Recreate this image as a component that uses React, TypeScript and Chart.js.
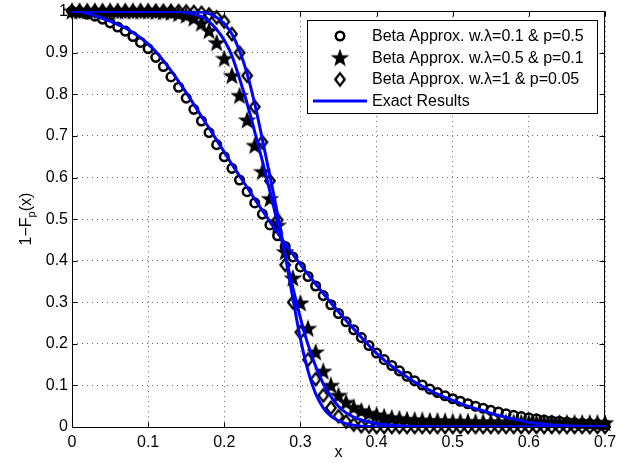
import React, { useEffect, useRef } from 'react';
import { Chart, registerables } from 'chart.js';

Chart.register(...registerables);

// ---------------- data ----------------
const X_VALUES = [
  0, 0.01, 0.02, 0.03, 0.04, 0.05, 0.06, 0.07, 0.08, 0.09,
  0.1, 0.11, 0.12, 0.13, 0.14, 0.15, 0.16, 0.17, 0.18, 0.19,
  0.2, 0.21, 0.22, 0.23, 0.24, 0.25, 0.26, 0.27, 0.28, 0.29,
  0.3, 0.31, 0.32, 0.33, 0.34, 0.35, 0.36, 0.37, 0.38, 0.39,
  0.4, 0.41, 0.42, 0.43, 0.44, 0.45, 0.46, 0.47, 0.48, 0.49,
  0.5, 0.51, 0.52, 0.53, 0.54, 0.55, 0.56, 0.57, 0.58, 0.59,
  0.6, 0.61, 0.62, 0.63, 0.64, 0.65, 0.66, 0.67, 0.68, 0.69,
  0.7,
];

// Beta approximation, lambda=0.1 & p=0.5 (circles)
const APPROX_L01 = [
  1.0, 0.998, 0.993, 0.988, 0.981, 0.972, 0.962, 0.952, 0.939, 0.925,
  0.91, 0.889, 0.867, 0.842, 0.817, 0.791, 0.764, 0.736, 0.708, 0.679,
  0.65, 0.622, 0.594, 0.566, 0.539, 0.512, 0.486, 0.46, 0.434, 0.409,
  0.385, 0.362, 0.339, 0.316, 0.294, 0.273, 0.253, 0.234, 0.215, 0.196,
  0.178, 0.162, 0.148, 0.135, 0.122, 0.111, 0.101, 0.091, 0.083, 0.075,
  0.068, 0.062, 0.056, 0.05, 0.045, 0.04, 0.036, 0.032, 0.028, 0.025,
  0.022, 0.02, 0.017, 0.015, 0.014, 0.012, 0.01, 0.009, 0.008, 0.007,
  0.006,
];

// Beta approximation, lambda=0.5 & p=0.1 (stars)
const APPROX_L05 = [
  1, 1, 1, 1, 1, 1, 1, 1, 1, 1,
  1, 0.999, 0.998, 0.997, 0.994, 0.99, 0.983, 0.971, 0.953, 0.924,
  0.886, 0.845, 0.797, 0.738, 0.677, 0.614, 0.549, 0.485, 0.421, 0.358,
  0.298, 0.237, 0.18, 0.134, 0.1, 0.076, 0.059, 0.047, 0.039, 0.033,
  0.029, 0.025, 0.022, 0.02, 0.018, 0.017, 0.016, 0.015, 0.015, 0.014,
  0.013, 0.013, 0.013, 0.012, 0.012, 0.012, 0.012, 0.011, 0.011, 0.011,
  0.011, 0.011, 0.01, 0.01, 0.01, 0.01, 0.01, 0.01, 0.01, 0.01,
  0.01,
];

// Beta approximation, lambda=1 & p=0.05 (diamonds)
const APPROX_L1 = [
  1, 1, 1, 1, 1, 1, 1, 1, 1, 1,
  1, 1, 1, 1, 1, 0.999, 0.998, 0.996, 0.992, 0.985,
  0.975, 0.945, 0.9, 0.845, 0.77, 0.685, 0.592, 0.498, 0.39, 0.3,
  0.228, 0.162, 0.115, 0.076, 0.046, 0.026, 0.013, 0.006, 0.002, 0.001,
  0, 0, 0, 0, 0, 0, 0, 0, 0, 0,
  0, 0, 0, 0, 0, 0, 0, 0, 0, 0,
  0, 0, 0, 0, 0, 0, 0, 0, 0, 0,
  0,
];

// Exact results (blue lines)
const EXACT_L01 = [
  1.0, 0.999, 0.995, 0.989, 0.983, 0.976, 0.968, 0.96, 0.949, 0.936,
  0.921, 0.903, 0.881, 0.857, 0.831, 0.804, 0.776, 0.747, 0.719, 0.69,
  0.661, 0.632, 0.604, 0.576, 0.548, 0.521, 0.494, 0.467, 0.441, 0.416,
  0.391, 0.367, 0.344, 0.321, 0.299, 0.277, 0.256, 0.236, 0.216, 0.196,
  0.177, 0.161, 0.146, 0.133, 0.12, 0.108, 0.098, 0.088, 0.079, 0.071,
  0.064, 0.057, 0.05, 0.044, 0.039, 0.033, 0.028, 0.023, 0.019, 0.015,
  0.011, 0.009, 0.007, 0.005, 0.004, 0.003, 0.002, 0.002, 0.001, 0.001,
  0.001,
];

const EXACT_L05 = [
  1, 1, 1, 1, 1, 1, 1, 1, 1, 1,
  1, 1, 1, 1, 0.999, 0.997, 0.993, 0.987, 0.975, 0.956,
  0.93, 0.893, 0.838, 0.778, 0.71, 0.64, 0.566, 0.49, 0.413, 0.336,
  0.262, 0.198, 0.146, 0.104, 0.073, 0.05, 0.034, 0.024, 0.017, 0.012,
  0.008, 0.006, 0.004, 0.003, 0.002, 0.001, 0.001, 0, 0, 0,
  0, 0, 0, 0, 0, 0, 0, 0, 0, 0,
  0, 0, 0, 0, 0, 0, 0, 0, 0, 0,
  0,
];

const EXACT_L1 = [
  1, 1, 1, 1, 1, 1, 1, 1, 1, 1,
  1, 1, 1, 1, 1, 1, 0.999, 0.998, 0.994, 0.985,
  0.97, 0.945, 0.905, 0.85, 0.777, 0.692, 0.603, 0.512, 0.413, 0.31,
  0.212, 0.135, 0.08, 0.046, 0.026, 0.015, 0.008, 0.004, 0.002, 0.001,
  0, 0, 0, 0, 0, 0, 0, 0, 0, 0,
  0, 0, 0, 0, 0, 0, 0, 0, 0, 0,
  0, 0, 0, 0, 0, 0, 0, 0, 0, 0,
  0,
];

const X_TICKS = [0, 0.1, 0.2, 0.3, 0.4, 0.5, 0.6, 0.7];
const X_TICK_LABELS = ['0', '0.1', '0.2', '0.3', '0.4', '0.5', '0.6', '0.7'];
const Y_TICKS = [0, 0.1, 0.2, 0.3, 0.4, 0.5, 0.6, 0.7, 0.8, 0.9, 1];
const Y_TICK_LABELS = ['0', '0.1', '0.2', '0.3', '0.4', '0.5', '0.6', '0.7', '0.8', '0.9', '1'];

const LEGEND_LABELS = [
  'Beta Approx. w.λ=0.1 & p=0.5',
  'Beta Approx. w.λ=0.5 & p=0.1',
  'Beta Approx. w.λ=1 & p=0.05',
  'Exact Results',
];
const X_TITLE = 'x';

// ---------------- styling ----------------
const FONT = '"Liberation Sans", Arial, Helvetica, sans-serif';
const BLUE = '#0000ff';

function makeStar(size: number, outer: number, inner: number): HTMLCanvasElement {
  const c = document.createElement('canvas');
  c.width = size;
  c.height = size;
  const g = c.getContext('2d')!;
  g.fillStyle = '#000';
  g.strokeStyle = '#000';
  g.lineWidth = 1.4;
  g.lineJoin = 'miter';
  g.beginPath();
  for (let k = 0; k < 10; k++) {
    const r = k % 2 === 0 ? outer : inner;
    const ang = -Math.PI / 2 + (k * Math.PI) / 5;
    const px = size / 2 + r * Math.cos(ang);
    const py = size / 2 + 0.6 + r * Math.sin(ang);
    if (k === 0) g.moveTo(px, py);
    else g.lineTo(px, py);
  }
  g.closePath();
  g.fill();
  g.stroke();
  return c;
}

function makeDiamond(size: number, hw: number, hh: number): HTMLCanvasElement {
  const c = document.createElement('canvas');
  c.width = size;
  c.height = size;
  const g = c.getContext('2d')!;
  const m = size / 2;
  g.strokeStyle = '#000';
  g.lineWidth = 2.3;
  g.lineJoin = 'miter';
  g.beginPath();
  g.moveTo(m - hw, m);
  g.lineTo(m, m - hh);
  g.lineTo(m + hw, m);
  g.lineTo(m, m + hh);
  g.closePath();
  g.stroke();
  return c;
}

const toXY = (ys: number[]) => X_VALUES.map((x, i) => ({ x, y: ys[i] }));

export default function App() {
  const ref = useRef<HTMLCanvasElement | null>(null);

  useEffect(() => {
    document.body.style.margin = '0';
    const canvas = ref.current;
    if (!canvas) return;
    const star = makeStar(18, 7.6, 3.1);
    const diamond = makeDiamond(18, 4.8, 6.2);

    const markerBase = {
      showLine: false,
      pointBorderColor: '#000',
      pointBackgroundColor: 'rgba(0,0,0,0)',
      pointBorderWidth: 2.5,
      clip: false as any,
      order: 2,
    };
    const lineBase = {
      showLine: true,
      borderColor: BLUE,
      backgroundColor: BLUE,
      borderWidth: 3,
      pointRadius: 0,
      cubicInterpolationMode: 'monotone' as const,
      fill: false,
      order: 1,
    };

    const decor = {
      id: 'matlabDecor',
      beforeDatasetsDraw(chart: any) {
        const { ctx, chartArea: a, scales } = chart;
        const l = Math.floor(a.left) + 0.5;
        const r = Math.floor(a.right) - 0.5;
        const t = Math.floor(a.top) + 0.5;
        const b = Math.floor(a.bottom) + 0.5;
        ctx.save();
        ctx.strokeStyle = '#000';
        ctx.lineWidth = 1;
        ctx.setLineDash([]);
        ctx.beginPath();
        ctx.rect(l, t, r - l, b - t);
        ctx.stroke();
        const tl = 5;
        ctx.beginPath();
        X_TICKS.forEach((v) => {
          const px = Math.round(scales.x.getPixelForValue(v)) + 0.5;
          ctx.moveTo(px, b);
          ctx.lineTo(px, b - tl);
          ctx.moveTo(px, t);
          ctx.lineTo(px, t + tl);
        });
        Y_TICKS.forEach((v) => {
          const py = Math.round(scales.y.getPixelForValue(v)) + 0.5;
          ctx.moveTo(l, py);
          ctx.lineTo(l + tl, py);
          ctx.moveTo(r, py);
          ctx.lineTo(r - tl, py);
        });
        ctx.stroke();
        ctx.restore();
      },
      afterDraw(chart: any) {
        const { ctx, chartArea: a } = chart;
        ctx.save();
        ctx.fillStyle = '#000';
        // x title
        ctx.font = `16px ${FONT}`;
        ctx.textAlign = 'center';
        ctx.textBaseline = 'alphabetic';
        ctx.fillText(X_TITLE, (a.left + a.right) / 2, a.bottom + 29.5);

        // y title: 1−F_p(x)
        ctx.save();
        ctx.translate(a.left - 41, (a.top + a.bottom) / 2);
        ctx.rotate(-Math.PI / 2);
        ctx.textAlign = 'left';
        const mainF = `16px ${FONT}`;
        const subF = `11px ${FONT}`;
        ctx.font = mainF;
        const w1 = ctx.measureText('1−F').width;
        const w3 = ctx.measureText('(x)').width;
        ctx.font = subF;
        const w2 = ctx.measureText('p').width;
        let cx = -(w1 + w2 + w3) / 2;
        ctx.font = mainF;
        ctx.fillText('1−F', cx, 0);
        cx += w1;
        ctx.font = subF;
        ctx.fillText('p', cx, 4);
        cx += w2;
        ctx.font = mainF;
        ctx.fillText('(x)', cx, 0);
        ctx.restore();

        // legend
        ctx.font = `16px ${FONT}`;
        const textOff = 65;
        const boxW = 290;
        const boxR = Math.floor(a.right) - 8;
        const boxL = boxR - boxW;
        const boxT = Math.floor(a.top) + 9;
        const rowH = 21.7;
        const boxH = 93;
        ctx.fillStyle = '#fff';
        ctx.fillRect(boxL + 0.5, boxT + 0.5, boxW, boxH);
        ctx.strokeStyle = '#000';
        ctx.lineWidth = 1;
        ctx.strokeRect(boxL + 0.5, boxT + 0.5, boxW, boxH);
        const mx = boxL + 33;
        LEGEND_LABELS.forEach((label, i) => {
          const cy = boxT + 16 + i * rowH;
          ctx.lineWidth = 2.5;
          ctx.strokeStyle = '#000';
          if (i === 0) {
            ctx.beginPath();
            ctx.arc(mx, cy, 4.3, 0, Math.PI * 2);
            ctx.stroke();
          } else if (i === 1) {
            ctx.drawImage(star, mx - star.width / 2, cy - star.height / 2);
          } else if (i === 2) {
            ctx.drawImage(diamond, mx - diamond.width / 2, cy - diamond.height / 2);
          } else {
            ctx.strokeStyle = BLUE;
            ctx.lineWidth = 3;
            ctx.beginPath();
            ctx.moveTo(boxL + 6, cy);
            ctx.lineTo(boxL + 60, cy);
            ctx.stroke();
          }
          ctx.fillStyle = '#000';
          ctx.textAlign = 'left';
          ctx.textBaseline = 'middle';
          ctx.fillText(label, boxL + textOff, cy + 0.5);
        });
        ctx.restore();
      },
    };

    const chart = new Chart(canvas, {
      type: 'scatter',
      data: {
        datasets: [
          { ...markerBase, label: LEGEND_LABELS[0], data: toXY(APPROX_L01), pointStyle: 'circle', pointRadius: 4.3 },
          { ...markerBase, label: LEGEND_LABELS[1], data: toXY(APPROX_L05), pointStyle: star as any, pointRadius: 7, pointBorderWidth: 0 },
          { ...markerBase, label: LEGEND_LABELS[2], data: toXY(APPROX_L1), pointStyle: diamond as any, pointRadius: 6, pointBorderWidth: 0 },
          { ...lineBase, label: LEGEND_LABELS[3], data: toXY(EXACT_L01) },
          { ...lineBase, label: LEGEND_LABELS[3] + ' 2', data: toXY(EXACT_L05) },
          { ...lineBase, label: LEGEND_LABELS[3] + ' 3', data: toXY(EXACT_L1) },
        ] as any,
      },
      options: {
        responsive: false,
        animation: false,
        events: [],
        layout: { padding: { top: 7, right: 24, left: 0, bottom: 0 } },
        plugins: {
          legend: { display: false },
          tooltip: { enabled: false },
          title: { display: false },
        },
        scales: {
          x: {
            type: 'linear',
            min: 0,
            max: 0.7,
            afterBuildTicks: (s: any) => {
              s.ticks = X_TICKS.map((v) => ({ value: v }));
            },
            afterFit: (s: any) => {
              s.height = 45;
            },
            ticks: {
              callback: (_v: any, i: number) => X_TICK_LABELS[i],
              font: { family: FONT, size: 16 },
              color: '#000',
              padding: 6,
              maxRotation: 0,
              autoSkip: false,
            },
            grid: { color: '#666', lineWidth: 1, drawTicks: false },
            border: { display: false, dash: [1, 4] },
          },
          y: {
            type: 'linear',
            min: 0,
            max: 1,
            afterBuildTicks: (s: any) => {
              s.ticks = Y_TICKS.map((v) => ({ value: v }));
            },
            afterFit: (s: any) => {
              s.width = 72;
            },
            ticks: {
              callback: (_v: any, i: number) => Y_TICK_LABELS[i],
              font: { family: FONT, size: 16, lineHeight: 0.9 },
              color: '#000',
              padding: 4,
              autoSkip: false,
            },
            grid: { color: '#666', lineWidth: 1, drawTicks: false },
            border: { display: false, dash: [1, 4] },
          },
        },
      },
      plugins: [decor],
    } as any);

    return () => chart.destroy();
  }, []);

  return (
    <div style={{ width: 629, height: 472, background: '#fff' }}>
      <canvas ref={ref} width={629} height={472} style={{ display: 'block' }} />
    </div>
  );
}
